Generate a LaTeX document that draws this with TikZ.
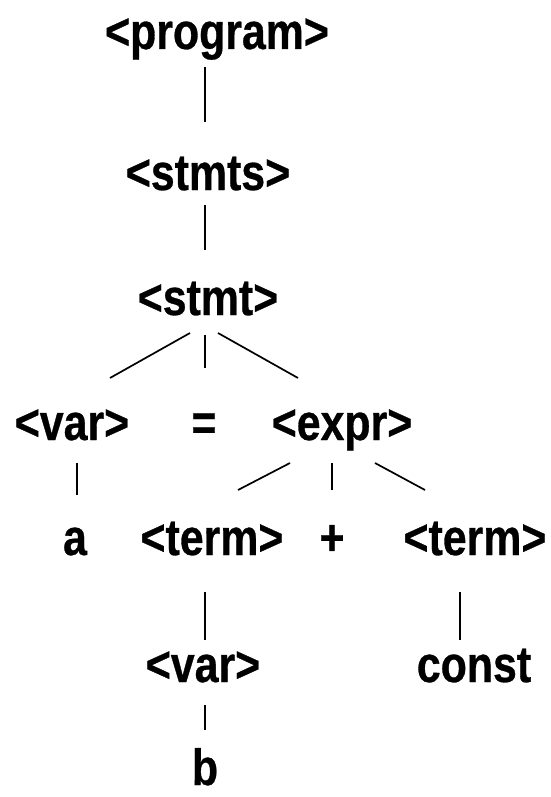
\documentclass[tikz,border=0pt]{standalone}
\usepackage{fontspec}
\setmainfont{Liberation Sans}[FakeStretch=0.84,BoldFeatures={FakeBold=0.6}]
\begin{document}
\begin{tikzpicture}[x=1pt,y=1pt,
  lbl/.style={anchor=base, inner sep=0pt, font=\fontsize{51}{52}\selectfont\bfseries},
  edge/.style={line width=1.7pt}]
\useasboundingbox (0,0) rectangle (550,-797);
\node[lbl] (prog)  at (217,-49)  {<program>};
\node[lbl] (stmts) at (208,-190) {<stmts>};
\node[lbl] (stmt)  at (208,-315) {<stmt>};
\node[lbl] (var1)  at (72,-440)  {<var>};
\node[lbl] (eq)    at (204,-440) {=};
\node[lbl] (expr)  at (342,-440) {<expr>};
\node[lbl] (a)     at (75,-555)  {a};
\node[lbl] (term1) at (212,-555) {<term>};
\node[lbl] (plus)  at (332,-555) {+};
\node[lbl] (term2) at (475,-555) {<term>};
\node[lbl] (var2)  at (203,-682) {<var>};
\node[lbl] (const) at (474,-682) {const};
\node[lbl] (b)     at (205,-785) {b};
\draw[edge] ([shift={(-12pt,-18pt)}]prog.base) -- ([shift={(-3pt,68pt)}]stmts.base);
\draw[edge] ([shift={(-3pt,-15pt)}]stmts.base) -- ([shift={(-3pt,65pt)}]stmt.base);
\draw[edge] ([shift={(-18pt,-18pt)}]stmt.base) -- ([shift={(38pt,62pt)}]var1.base);
\draw[edge] ([shift={(-3pt,-20pt)}]stmt.base) -- ([shift={(1pt,72pt)}]eq.base);
\draw[edge] ([shift={(10pt,-18pt)}]stmt.base) -- ([shift={(-44pt,62pt)}]expr.base);
\draw[edge] ([shift={(5pt,-23pt)}]var1.base) -- ([shift={(2pt,60pt)}]a.base);
\draw[edge] ([shift={(-52pt,-23pt)}]expr.base) -- ([shift={(26pt,65pt)}]term1.base);
\draw[edge] ([shift={(-10pt,-23pt)}]expr.base) -- ([shift={(0pt,65pt)}]plus.base);
\draw[edge] ([shift={(33pt,-23pt)}]expr.base) -- ([shift={(-50pt,65pt)}]term2.base);
\draw[edge] ([shift={(-7pt,-37pt)}]term1.base) -- ([shift={(2pt,42pt)}]var2.base);
\draw[edge] ([shift={(-15pt,-37pt)}]term2.base) -- ([shift={(-14pt,42pt)}]const.base);
\draw[edge] ([shift={(2pt,-23pt)}]var2.base) -- ([shift={(0pt,55pt)}]b.base);
\end{tikzpicture}
\end{document}
